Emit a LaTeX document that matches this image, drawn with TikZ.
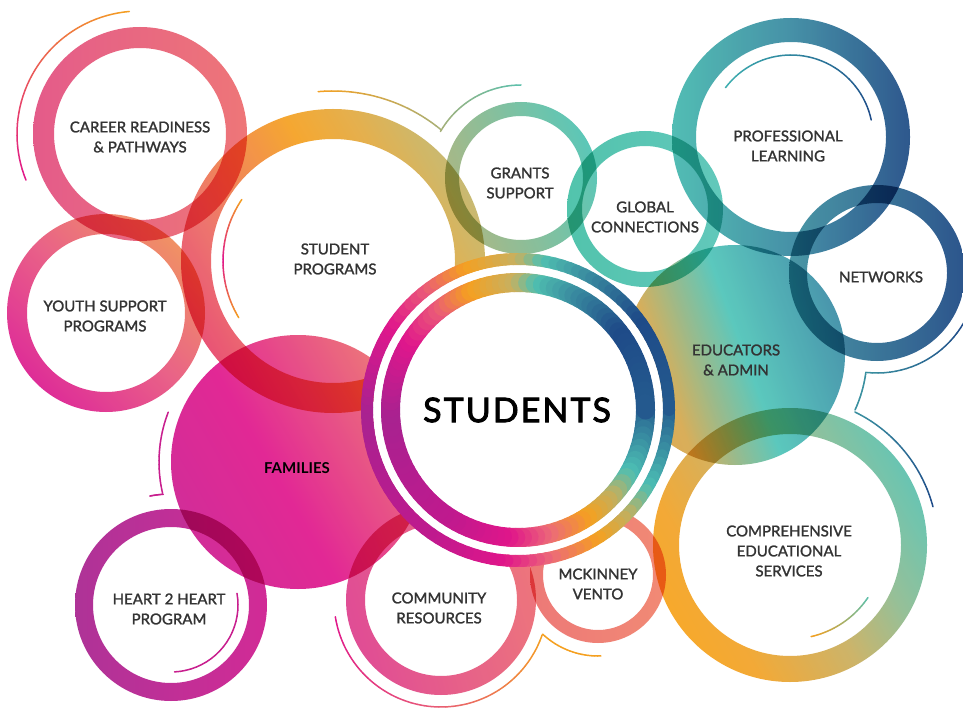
\documentclass[tikz,border=0pt]{standalone}
\usepackage{fontspec}
\setmainfont{Lato}

% ring colours
\definecolor{carA}{HTML}{E24E80}\definecolor{carB}{HTML}{ED6B6D}
\definecolor{youA}{HTML}{DC1C8F}\definecolor{youM}{HTML}{E8557E}\definecolor{youB}{HTML}{EF8858}
\definecolor{spA}{HTML}{E8466A}\definecolor{spB}{HTML}{EC6A62}\definecolor{spC}{HTML}{F5A020}
\definecolor{spD}{HTML}{E2AA40}\definecolor{spE}{HTML}{C4B466}
\definecolor{graA}{HTML}{A6B27A}\definecolor{graB}{HTML}{4EC3B2}
\definecolor{gloA}{HTML}{44BFA6}\definecolor{gloB}{HTML}{55C4B6}
\definecolor{proA}{HTML}{44B8AE}\definecolor{proM}{HTML}{3788A0}\definecolor{proB}{HTML}{1D4A84}
\definecolor{netA}{HTML}{3B8E9E}\definecolor{netB}{HTML}{1B4783}
\definecolor{eduA}{HTML}{DCA545}\definecolor{eduB}{HTML}{D6A84C}\definecolor{eduC}{HTML}{92B582}
\definecolor{eduD}{HTML}{4EC4B8}\definecolor{eduE}{HTML}{3A8DA6}
\definecolor{famA}{HTML}{CF1C90}\definecolor{famB}{HTML}{E0168C}\definecolor{famC}{HTML}{EC6E6E}
\definecolor{comA}{HTML}{F7A21B}\definecolor{comB}{HTML}{F2A226}\definecolor{comC}{HTML}{C8AE5E}
\definecolor{comD}{HTML}{8DBB90}\definecolor{comE}{HTML}{5DC0AC}
\definecolor{heaA}{HTML}{A8228F}\definecolor{heaB}{HTML}{CE1A8E}
\definecolor{cmuA}{HTML}{DE3E8C}\definecolor{cmuB}{HTML}{EC6A72}
\definecolor{mckA}{HTML}{EC6E6C}\definecolor{mckB}{HTML}{F0806A}
% students ring stops
\definecolor{stA}{HTML}{245A8E}\definecolor{stB}{HTML}{4DBFB4}\definecolor{stC}{HTML}{C0B060}
\definecolor{stD}{HTML}{F5A020}\definecolor{stE}{HTML}{EC6A78}\definecolor{stF}{HTML}{E0168A}
\definecolor{stG}{HTML}{C0198E}\definecolor{stH}{HTML}{A82290}\definecolor{stI}{HTML}{E0168C}
\definecolor{stJ}{HTML}{EA5A78}\definecolor{stK}{HTML}{F5A020}\definecolor{stL}{HTML}{C8B060}
\definecolor{stM}{HTML}{50C0B0}\definecolor{stN}{HTML}{3A8CA0}\definecolor{stO}{HTML}{1E4A88}
% thin arcs
\definecolor{magA}{HTML}{E0168C}\definecolor{orgA}{HTML}{F5A020}\definecolor{olvA}{HTML}{A8B078}
\definecolor{tealA}{HTML}{5CC0AC}\definecolor{tealB}{HTML}{3DB0B0}\definecolor{tealC}{HTML}{3A90A0}
\definecolor{navyA}{HTML}{1E4A88}\definecolor{heartM}{HTML}{C81E8E}\definecolor{pinkA}{HTML}{E85A78}
\definecolor{txtgray}{HTML}{333333}

\pgfdeclarehorizontalshading{shcareer}{100bp}{color(0bp)=(carA); color(25bp)=(carA); color(75bp)=(carB); color(100bp)=(carB)}
\pgfdeclarehorizontalshading{shyouth}{100bp}{color(0bp)=(youA); color(25bp)=(youA); color(50bp)=(youM); color(75bp)=(youB); color(100bp)=(youB)}
\pgfdeclarehorizontalshading{shsprog}{100bp}{color(0bp)=(spA); color(25bp)=(spA); color(35bp)=(spB); color(55bp)=(spC); color(65bp)=(spD); color(75bp)=(spE); color(100bp)=(spE)}
\pgfdeclarehorizontalshading{shgrants}{100bp}{color(0bp)=(graA); color(25bp)=(graA); color(75bp)=(graB); color(100bp)=(graB)}
\pgfdeclarehorizontalshading{shglobal}{100bp}{color(0bp)=(gloA); color(25bp)=(gloA); color(75bp)=(gloB); color(100bp)=(gloB)}
\pgfdeclarehorizontalshading{shprof}{100bp}{color(0bp)=(proA); color(25bp)=(proA); color(50bp)=(proM); color(75bp)=(proB); color(100bp)=(proB)}
\pgfdeclarehorizontalshading{shnetw}{100bp}{color(0bp)=(netA); color(25bp)=(netA); color(75bp)=(netB); color(100bp)=(netB)}
\pgfdeclarehorizontalshading{shedu}{100bp}{color(0bp)=(eduA); color(25bp)=(eduA); color(33bp)=(eduB); color(42bp)=(eduC); color(52bp)=(eduD); color(75bp)=(eduE); color(100bp)=(eduE)}
\pgfdeclarehorizontalshading{shfam}{100bp}{color(0bp)=(famA); color(25bp)=(famA); color(45bp)=(famB); color(75bp)=(famC); color(100bp)=(famC)}
\pgfdeclarehorizontalshading{shcomp}{100bp}{color(0bp)=(comA); color(25bp)=(comA); color(33bp)=(comB); color(50bp)=(comC); color(62bp)=(comD); color(75bp)=(comE); color(100bp)=(comE)}
\pgfdeclarehorizontalshading{shheart}{100bp}{color(0bp)=(heaA); color(25bp)=(heaA); color(75bp)=(heaB); color(100bp)=(heaB)}
\pgfdeclarehorizontalshading{shcomm}{100bp}{color(0bp)=(cmuA); color(25bp)=(cmuA); color(75bp)=(cmuB); color(100bp)=(cmuB)}
\pgfdeclarehorizontalshading{shmck}{100bp}{color(0bp)=(mckA); color(25bp)=(mckA); color(75bp)=(mckB); color(100bp)=(mckB)}

% thin arc, colour running from #5 to #6
\newcommand\gradarc[6]{%
  \foreach \k in {1,...,20}{%
    \pgfmathsetmacro\arcA{#3+(\k-1)*(#4-(#3))/20}%
    \pgfmathsetmacro\arcB{#3+\k*(#4-(#3))/20}%
    \pgfmathsetmacro\arcP{100*(\k-0.5)/20}%
    \draw[thin arc, draw=#6!\arcP!#5] (#1) ++(\arcA:#2) arc[start angle=\arcA, end angle=\arcB, radius=#2];
  }}

\begin{document}
\begin{tikzpicture}[x=1pt, y=-1pt,
    blob/.style={even odd rule, blend mode=multiply, fill opacity=0.92},
    thin arc/.style={line width=1.5, line cap=round},
    lbl/.style={align=center, inner sep=0pt, text=txtgray,
        font=\fontsize{15}{20}\selectfont\addfontfeatures{FakeBold=1.5}}]
    \fill[white] (0,0) rectangle (963,708);
    \useasboundingbox (0,0) rectangle (963,708);

    \coordinate (career) at (140,134);
    \coordinate (youth) at (106,313);
    \coordinate (sprog) at (333,261);
    \coordinate (grants) at (521,178);
    \coordinate (global) at (645,209);
    \coordinate (prof) at (791,137);
    \coordinate (netw) at (877,273);
    \coordinate (edu) at (735,355);
    \coordinate (fam) at (298,462);
    \coordinate (comp) at (790,545);
    \coordinate (heart) at (171,605);
    \coordinate (comm) at (441,600);
    \coordinate (mck) at (598,575);
    \coordinate (stu) at (518,410);

    % thin arcs
    \gradarc{career}{123}{158}{265}{magA}{orgA}
    \gradarc{sprog}{110}{149}{181}{orgA}{magA}
    \gradarc{sprog}{110}{181}{214}{magA}{orgA}
    \gradarc{sprog}{170}{265}{309.5}{orgA}{olvA}
    \gradarc{grants}{93}{210}{270}{olvA}{tealA}
    \gradarc{prof}{82}{217}{348}{tealB}{navyA}
    \gradarc{netw}{100}{30}{96}{navyA}{tealC}
    \gradarc{edu}{132}{7.5}{24.6}{tealC}{tealC}
    \gradarc{comp}{148}{296}{345}{tealC}{navyA}
    \gradarc{comp}{94}{34}{77}{tealA}{orgA}
    \gradarc{heart}{67}{-10}{87}{heartM}{heartM}
    \gradarc{fam}{139}{167}{201}{heartM}{heartM}
    \gradarc{heart}{111}{259}{266}{heartM}{heartM}
    \gradarc{comm}{107}{19}{95}{orgA}{pinkA}
    \gradarc{comm}{107}{95}{171}{pinkA}{magA}
    \gradarc{mck}{81}{88}{133}{orgA}{orgA}

    % filled circles and rings
    \shade[blob, shading=shedu, shading angle=20] (edu) circle (110);
    \shade[blob, shading=shfam, shading angle=30] (fam) circle (127);
    \shade[blob, shading=shcareer, shading angle=0] (career) circle (107) (career) circle (86);
    \shade[blob, shading=shyouth, shading angle=45] (youth) circle (99) (youth) circle (79);
    \shade[blob, shading=shsprog, shading angle=30] (sprog) circle (152) (sprog) circle (122);
    \shade[blob, shading=shgrants, shading angle=20] (grants) circle (76) (grants) circle (62);
    \shade[blob, shading=shglobal, shading angle=0] (global) circle (78) (global) circle (63);
    \shade[blob, shading=shprof, shading angle=0] (prof) circle (119) (prof) circle (95);
    \shade[blob, shading=shnetw, shading angle=0] (netw) circle (88) (netw) circle (70);
    \shade[blob, shading=shcomp, shading angle=30] (comp) circle (137) (comp) circle (111);
    \shade[blob, shading=shheart, shading angle=0] (heart) circle (96) (heart) circle (78);
    \shade[blob, shading=shcomm, shading angle=15] (comm) circle (95) (comm) circle (76);
    \shade[blob, shading=shmck, shading angle=0] (mck) circle (68) (mck) circle (55);

    % students double ring
    \fill[white] (stu) circle (145);
    \foreach \ta/\ca/\tb/\cb in {0/stA/32/stB, 32/stB/45/stC, 45/stC/60/stD, 60/stD/79/stE,
        79/stE/97/stF, 97/stF/125/stG, 125/stG/181/stH, 181/stH/215/stI, 215/stI/234/stJ,
        234/stJ/251/stK, 251/stK/271/stL, 271/stL/281/stM, 281/stM/299/stN, 299/stN/325/stO,
        325/stO/360/stA}{
        \pgfmathtruncatemacro\nseg{max(1,round((\tb-\ta)/3))}
        \foreach \k in {1,...,\nseg}{
            \pgfmathsetmacro\segA{\ta+(\k-1)*(\tb-\ta)/\nseg}
            \pgfmathsetmacro\segB{\ta+\k*(\tb-\ta)/\nseg}
            \pgfmathsetmacro\segP{100*(\k-0.5)/\nseg}
            \draw[line width=12, line cap=round, draw=\cb!\segP!\ca] (stu) ++(\segA:151) arc[start angle=\segA, end angle=\segB, radius=151];
            \draw[line width=19, line cap=round, draw=\cb!\segP!\ca] (stu) ++(\segA:127.5) arc[start angle=\segA, end angle=\segB, radius=127.5];
        }
    }

    % labels
    \node[lbl] (careerlbl) at (140,137) {CAREER READINESS\\\& PATHWAYS};
    \node[lbl] (youthlbl) at (105,316) {YOUTH SUPPORT\\PROGRAMS};
    \node[lbl] (sproglbl) at (335,259) {STUDENT\\PROGRAMS};
    \node[lbl] (grantslbl) at (520,183) {GRANTS\\SUPPORT};
    \node[lbl] (globallbl) at (645,217) {GLOBAL\\CONNECTIONS};
    \node[lbl] (proflbl) at (788,146) {PROFESSIONAL\\LEARNING};
    \node[lbl] (netwlbl) at (881,277) {NETWORKS};
    \node[lbl] (edulbl) at (736,360) {EDUCATORS\\\& ADMIN};
    \node[lbl, text=black, font=\fontsize{15}{20}\selectfont\bfseries] (famlbl) at (297,468) {FAMILIES};
    \node[lbl] (complbl) at (789,551) {COMPREHENSIVE\\EDUCATIONAL\\SERVICES};
    \node[lbl] (heartlbl) at (169,609) {HEART 2 HEART\\PROGRAM};
    \node[lbl] (commlbl) at (439,608) {COMMUNITY\\RESOURCES};
    \node[lbl] (mcklbl) at (598,584) {MCKINNEY\\VENTO};
    \node[lbl, text=black, font=\fontsize{34}{40}\selectfont\addfontfeatures{LetterSpace=6,FakeBold=2.5}] (stulbl) at (517,410) {STUDENTS};
\end{tikzpicture}
\end{document}
